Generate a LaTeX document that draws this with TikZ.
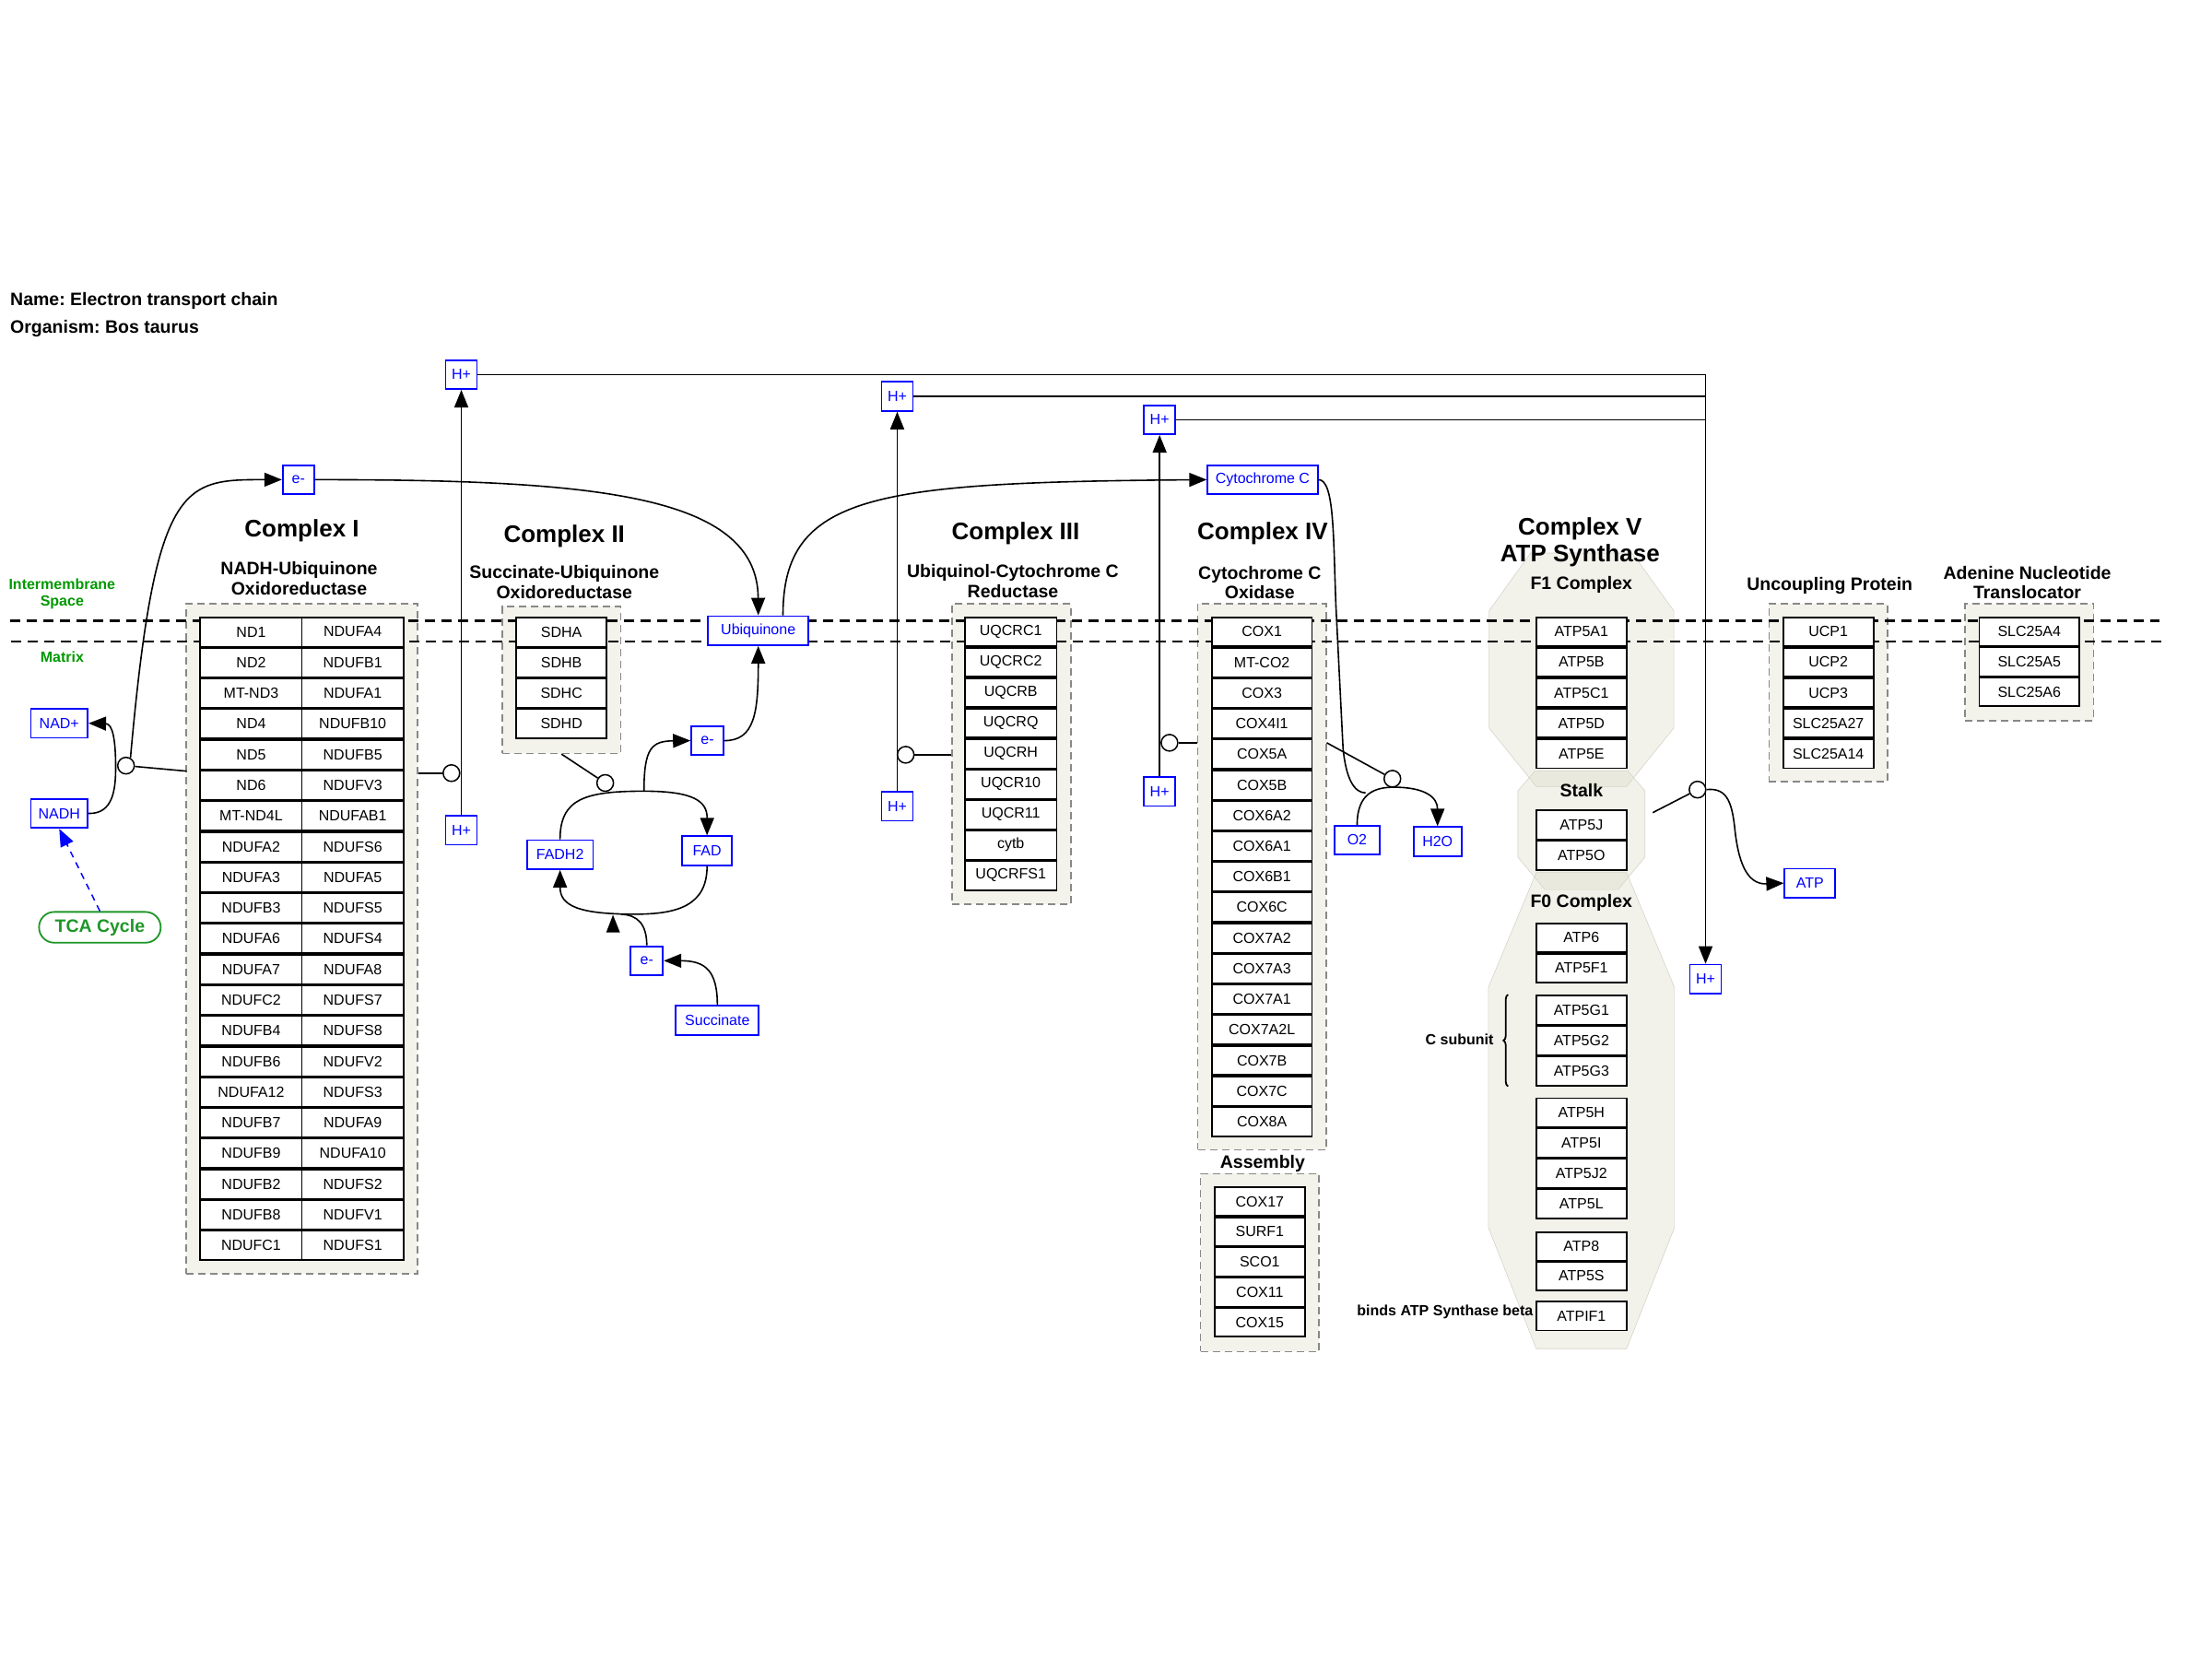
\documentclass[tikz,border=0pt]{standalone}
\usepackage{fontspec}
\setmainfont{Liberation Sans}
\frenchspacing
\usetikzlibrary{arrows.meta,fit,decorations.pathreplacing,calc}
\definecolor{grpfill}{RGB}{243,243,236}
\definecolor{grpedge}{RGB}{136,136,136}
\definecolor{cvfill}{RGB}{215,215,190}
\definecolor{cvedge}{RGB}{212,212,204}
\definecolor{metblue}{RGB}{0,0,255}
\definecolor{memgreen}{RGB}{0,153,0}
\definecolor{tcagreen}{RGB}{30,150,40}
\newcommand{\genecol}[6]{%
  \foreach \g [count=\i] in {#6} {
    \node[gene, minimum width=#5, minimum height={#4*1.5306pt-1.5pt}] (#1\i) at (#2, {#3+#4*(\i-0.5)}) {\g};
  }}
\begin{document}
\begin{tikzpicture}[x=1.5306pt,y=-1.5306pt,
  gene/.style={draw=black, line width=1.8pt, fill=white, inner sep=0pt, font=\fontsize{16}{18}\selectfont},
  met/.style={draw=metblue, line width=1.8pt, fill=white, text=metblue, inner sep=0pt, minimum height=31.5pt, font=\fontsize{16}{18}\selectfont},
  grp/.style={draw=grpedge, fill=grpfill, line width=1.5pt, dash pattern=on 8pt off 5pt, inner sep=0pt},
  cvshape/.style={fill=cvfill, fill opacity=0.3, draw=cvedge, line width=0.6pt},
  memline/.style={line width=2.1pt, dash pattern=on 11pt off 7pt},
  conn/.style={line width=1.6pt},
  arr/.style={conn, -{Triangle[length=19pt,width=15pt]}},
  cat/.style={circle, draw, line width=1.5pt, fill=white, minimum size=18pt, inner sep=0pt},
  ttl/.style={font=\fontsize{26}{29}\selectfont\bfseries, align=center},
  subttl/.style={font=\fontsize{19.5}{21.5}\selectfont\bfseries, align=center},
  lbl/.style={font=\fontsize{16}{18.4}\selectfont\bfseries, align=center}]
\useasboundingbox (0,0) rectangle (1568,1176);
\fill[white] (0,0) rectangle (1568,1176);

% Complex V shapes
\path[cvshape] (1085,392) -- (1157,392) -- (1186.5,433) -- (1186.5,516) -- (1153,557.5) -- (1089,557.5) -- (1055.5,516) -- (1055.5,433) -- cycle;
\path[cvshape] (1088,546.6) -- (1154,546.6) -- (1166,560.5) -- (1166,607.6) -- (1147,630.5) -- (1095,630.5) -- (1076,607.6) -- (1076,560.5) -- cycle;
\path[cvshape] (1089,618.5) -- (1153,618.5) -- (1187,700) -- (1187,870) -- (1153,956) -- (1089,956) -- (1055,870) -- (1055,700) -- cycle;

% group boxes
\node[grp, fit={(132,428) (296,903)}] (g1) {};
\node[grp, fit={(356,430) (440,534)}] (g2) {};
\node[grp, fit={(675,428) (759,641)}] (g3) {};
\node[grp, fit={(849,428) (940,815)}] (g4) {};
\node[grp, fit={(851,832) (935,958)}] (g4b) {};
\node[grp, fit={(1254,428) (1338,554)}] (g6) {};
\node[grp, fit={(1393,428) (1484,511)}] (g7) {};

% membrane
\draw[memline] (7,440) -- (1531,440);
\draw[memline] (8,455) -- (1535,455);

% genes
\genecol{ca}{178}{437}{21.75}{110.2pt}{ND1,ND2,MT-ND3,ND4,ND5,ND6,MT-ND4L,NDUFA2,NDUFA3,NDUFB3,NDUFA6,NDUFA7,NDUFC2,NDUFB4,NDUFB6,NDUFA12,NDUFB7,NDUFB9,NDUFB2,NDUFB8,NDUFC1}
\genecol{cb}{250}{437}{21.75}{110.2pt}{NDUFA4,NDUFB1,NDUFA1,NDUFB10,NDUFB5,NDUFV3,NDUFAB1,NDUFS6,NDUFA5,NDUFS5,NDUFS4,NDUFA8,NDUFS7,NDUFS8,NDUFV2,NDUFS3,NDUFA9,NDUFA10,NDUFS2,NDUFV1,NDUFS1}
\genecol{cc}{398}{437}{21.75}{98pt}{SDHA,SDHB,SDHC,SDHD}
\genecol{cd}{716.5}{437}{21.6}{99.5pt}{UQCRC1,UQCRC2,UQCRB,UQCRQ,UQCRH,UQCR10,UQCR11,cytb,UQCRFS1}
\genecol{ce}{894.5}{437}{21.7}{108.7pt}{COX1,MT-CO2,COX3,COX4I1,COX5A,COX5B,COX6A2,COX6A1,COX6B1,COX6C,COX7A2,COX7A3,COX7A1,COX7A2L,COX7B,COX7C,COX8A}
\genecol{cf}{893}{841}{21.4}{98pt}{COX17,SURF1,SCO1,COX11,COX15}
\genecol{fa}{1121}{437}{21.6}{98pt}{ATP5A1,ATP5B,ATP5C1,ATP5D,ATP5E}
\genecol{fs}{1121}{574}{21.5}{98pt}{ATP5J,ATP5O}
\genecol{fb}{1121}{654}{21.5}{98pt}{ATP6,ATP5F1}
\genecol{fc}{1121}{705}{21.7}{98pt}{ATP5G1,ATP5G2,ATP5G3}
\genecol{fd}{1121}{778}{21.5}{98pt}{ATP5H,ATP5I,ATP5J2,ATP5L}
\genecol{fe}{1121}{873}{21}{98pt}{ATP8,ATP5S}
\genecol{ff}{1121}{922}{21.5}{98pt}{ATPIF1}
\genecol{ua}{1296}{437}{21.6}{98pt}{UCP1,UCP2,UCP3,SLC25A27,SLC25A14}
\genecol{ub}{1438.5}{437}{21.33}{108.7pt}{SLC25A4,SLC25A5,SLC25A6}

% metabolites
\node[met, minimum width=34pt] (e1) at (211.5,340) {e-};
\node[met, minimum width=34pt] (hp1) at (327,265.5) {H+};
\node[met, minimum width=34pt] (hp2) at (327,588.5) {H+};
\node[met, minimum width=34pt] (hp3) at (636,281) {H+};
\node[met, minimum width=34pt] (hp4) at (636,571.5) {H+};
\node[met, minimum width=34pt] (hp5) at (822,297.5) {H+};
\node[met, minimum width=34pt] (hp6) at (822,561) {H+};
\node[met, minimum width=34pt] (hp7) at (1209,694) {H+};
\node[met, minimum width=119.4pt] (cytc) at (895,340) {Cytochrome C};
\node[met, minimum width=108.7pt] (ubq) at (537.5,447) {Ubiquinone};
\node[met, minimum width=35pt] (e2) at (501.5,525) {e-};
\node[met, minimum width=71.6pt] (fadh2) at (397,605.8) {FADH2};
\node[met, minimum width=54.3pt] (fad) at (501.2,603) {FAD};
\node[met, minimum width=35pt] (e3) at (458.5,681) {e-};
\node[met, minimum width=90pt] (succ) at (508.5,723.3) {Succinate};
\node[met, minimum width=49pt] (o2) at (962,595.5) {O2};
\node[met, minimum width=52pt] (h2o) at (1019,596.5) {H2O};
\node[met, minimum width=55pt] (atp) at (1283,626) {ATP};
\node[met, minimum width=61.7pt] (nadp) at (42,512.7) {NAD+};
\node[met, minimum width=61.7pt] (nadh) at (42,576.6) {NADH};
\node[draw=tcagreen, line width=1.8pt, fill=white, rounded corners=16.5pt, minimum width=132pt, minimum height=33.4pt, inner sep=0pt, text=tcagreen, font=\fontsize{19.5}{22}\selectfont\bfseries] (tca) at (70.8,657.3) {TCA Cycle};

% catalysis circles
\node[cat] (k1) at (89.3,542.7) {};
\node[cat] (k2) at (320,548) {};
\node[cat] (k3) at (429,555) {};
\node[cat] (k4) at (642,535) {};
\node[cat] (k5) at (829,526.5) {};
\node[cat] (k6) at (987,552) {};
\node[cat] (k7) at (1203.3,559.7) {};
\coordinate (stalkR) at (1171.6,576);
\coordinate (br1) at (456.5,560.8);
\coordinate (br2) at (440,648);
\coordinate (br3) at (968,562);

% H+ transport
\draw[arr] (hp2.north) -- (hp1.south);
\draw[arr] (hp4.north) -- (hp3.south);
\draw[arr] (hp6.north) -- (hp5.south);
\draw[arr] (hp1.east) -| (hp7.north);
\draw[conn] (hp3.east) -- (hp3.east -| hp7.north);
\draw[conn] (hp5.east) -- (hp5.east -| hp7.north);

% catalysis links
\draw[conn] (k1) -- (132.4,546.6);
\draw[conn] (k2) -- (k2 -| g1.east);
\draw[conn] (k3) -- (g2.south);
\draw[conn] (k4) -- (k4 -| g3.west);
\draw[conn] (k5) -- (k5 -| g4.west);
\draw[conn] (k6) -- (g4.east |- k5);
\draw[conn] (k7) -- (stalkR);

% NADH
\draw[arr] (nadh.east) .. controls (80,577) and (82,560) .. (82,544) .. controls (82,525) and (80,513) .. (nadp.east);
\draw[arr] (k1.60) .. controls (110,340) and (130,340) .. (e1.west);
\draw[arr] (e1.east) .. controls (420,340) and (537,350) .. (ubq.north);
\draw[arr] ([xshift=26.8pt]ubq.north) .. controls (555,350) and (620,342) .. (cytc.west);
\draw[dash pattern=on 7pt off 6pt, draw=metblue, line width=1.5pt, -{Triangle[length=19pt,width=15pt]}] (tca.north) -- (nadh.south);

% Complex II
\draw[arr] (fadh2.north) .. controls (397,566) and (415,560.8) .. (br1) .. controls (492,560.8) and (501.3,568) .. (fad.north);
\draw[arr] (br1) .. controls (456.5,530) and (462,525.3) .. (e2.west);
\draw[arr] (e2.east) .. controls (535,525) and (537.5,505) .. (ubq.south);
\draw[arr] (fad.south) .. controls (501.3,642) and (480,648) .. (450,648) .. controls (410,648) and (397,642) .. (fadh2.south);
\draw[conn] (e3.north) .. controls (458.4,655) and (452,648.5) .. (br2);
\fill (434.5,648.5) -- (429.7,661) -- (439.5,661) -- cycle;
\draw[arr] (succ.north) .. controls (508.5,688) and (500,681) .. (e3.east);

% Complex IV
\draw[conn] (cytc.east) .. controls (946,340) and (945,380) .. (947,430) -- (952,530) .. controls (954,552) and (960,562) .. (br3);
\draw[arr] (o2.north) .. controls (962,562) and (975,558) .. (988,558) .. controls (1010,558) and (1019,565) .. (h2o.north);

% Complex V
\draw[arr] (k7.east) .. controls (1225,558) and (1228,570) .. (1230,590) .. controls (1233,615) and (1240,627) .. (atp.west);
\draw[decorate, decoration={brace, amplitude=5pt}, line width=1.8pt] (1069,770) -- (1069,705);

% texts
\node[anchor=west, font=\fontsize{19.5}{22}\selectfont\bfseries] (nm) at (5,213) {Name: Electron transport chain};
\node[anchor=west, font=\fontsize{19.5}{22}\selectfont\bfseries] (org) at (5,233) {Organism: Bos taurus};
\node[lbl, text=memgreen] (ims) at (44,421) {Intermembrane\\Space};
\node[lbl, text=memgreen] (mtx) at (44,466) {Matrix};
\node[ttl] (t1) at (214,376) {Complex I};
\node[subttl] (s1) at (212,410) {NADH-Ubiquinone\\Oxidoreductase};
\node[ttl] (t2) at (400,380) {Complex II};
\node[subttl] (s2) at (400,412.5) {Succinate-Ubiquinone\\Oxidoreductase};
\node[ttl] (t3) at (720,378) {Complex III};
\node[subttl] (s3) at (718,412) {Ubiquinol-Cytochrome C\\Reductase};
\node[ttl] (t4) at (895,378) {Complex IV};
\node[subttl] (s4) at (893,413) {Cytochrome C\\Oxidase};
\node[subttl] (asm) at (895,825) {Assembly};
\node[ttl] (t5) at (1120,384.5) {Complex V\\ATP Synthase};
\node[subttl] (f1l) at (1121,414.5) {F1 Complex};
\node[subttl] (stl) at (1121,560.3) {Stalk};
\node[subttl] (f0l) at (1121,640) {F0 Complex};
\node[subttl] (ucl) at (1297,415) {Uncoupling Protein};
\node[subttl] (antl) at (1437,413) {Adenine Nucleotide\\Translocator};
\node[lbl, anchor=east] (csub) at (1061,737) {C subunit};
\node[lbl, anchor=east] (binds) at (1089,930) {binds ATP Synthase beta};
\end{tikzpicture}
\end{document}
